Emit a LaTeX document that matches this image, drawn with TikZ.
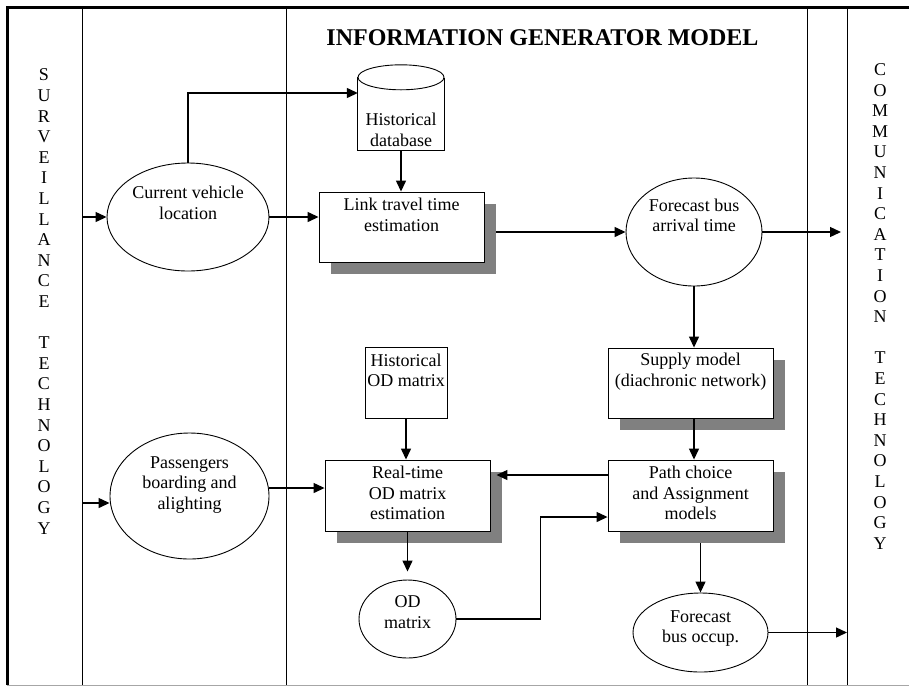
\documentclass[tikz,border=0pt]{standalone}
\usepackage{fontspec}
\setmainfont{Liberation Serif}
\usetikzlibrary{arrows.meta}
\usetikzlibrary{shapes.geometric}
\usetikzlibrary{shadows}
\usetikzlibrary{calc}

\begin{document}
\begin{tikzpicture}[x=1pt, y=-1pt, >={Triangle[length=11pt,width=10pt]},
    font=\fontsize{18}{20.6}\selectfont,
    block/.style={draw, fill=white, line width=0.9pt, inner sep=0pt},
    shade/.style={drop shadow={shadow xshift=12pt, shadow yshift=-12pt, fill=gray, opacity=1}},
    oval/.style={draw, ellipse, fill=white, line width=0.9pt, inner sep=0pt},
    txt/.style={align=center, inner sep=0pt},
    arr/.style={->, line width=1.3pt}]

    \useasboundingbox (0,0) rectangle (909,686);

    % frame and lanes
    \draw[gray!70, line width=1pt] (7,685) -- (909,685);
    \foreach \x in {82,286,807,847}
        \draw[line width=1pt] (\x,7) -- (\x,685);
    \draw[line width=3pt] (7,685) -- (7,7) -- (909,7);

    \coordinate (sl) at (82,0);
    \coordinate (sr) at (847,0);

    \node[font=\bfseries\fontsize{24}{28}\selectfont] (title) at (542.5,38) {INFORMATION GENERATOR MODEL};

    \node[txt] (surv) at (44,301.5) {S\\U\\R\\V\\E\\I\\L\\L\\A\\N\\C\\E\\[20.6pt]T\\E\\C\\H\\N\\O\\L\\O\\G\\Y};
    \node[txt] (comm) at (880,306.5) {C\\O\\M\\M\\U\\N\\I\\C\\A\\T\\I\\O\\N\\[20.6pt]T\\E\\C\\H\\N\\O\\L\\O\\G\\Y};

    % historical database
    \node[inner sep=0pt, minimum width=86pt, minimum height=85pt] (hdb) at (401,107.5) {};
    \draw[fill=white, line width=0.9pt] (hdb.north west) ++(0,12.5) -- (hdb.south west) -- (hdb.south east) -- ++(0,-72.5);
    \draw[fill=white, line width=0.9pt] ($(hdb.north)+(0,12.5)$) ellipse [x radius=43pt, y radius=12.5pt];
    \node[txt] (hdbt) at (401,130) {Historical\\database};

    % boxes
    \node[block, shade, minimum width=165pt, minimum height=70pt] (ltt) at (401.5,227) {};
    \node[txt] (lttt) at ([yshift=12pt]ltt.center) {Link travel time\\estimation};

    \node[block, shade, minimum width=165pt, minimum height=70pt] (sup) at (690.5,383) {};
    \node[txt] (supt) at ([yshift=11.5pt]sup.center) {Supply model\\(diachronic network)};

    \node[block, shade, minimum width=165pt, minimum height=71pt] (pca) at (690.5,495.5) {};
    \node[txt] (pcat) at ([yshift=2.5pt]pca.center) {Path choice\\and Assignment\\models};

    \node[block, shade, minimum width=165pt, minimum height=71pt] (rto) at (407.5,495.5) {};
    \node[txt] (rtot) at ([yshift=2.5pt]rto.center) {Real-time\\OD matrix\\estimation};

    \node[block, minimum width=82pt, minimum height=71pt] (hod) at (406,382.5) {};
    \node[txt] (hodt) at ([yshift=12pt]hod.center) {Historical\\OD matrix};

    % ellipses
    \node[oval, minimum width=162pt, minimum height=108pt] (cvl) at (188,217) {};
    \node[txt] (cvlt) at ([yshift=14pt]cvl.center) {Current vehicle\\location};

    \node[oval, minimum width=136pt, minimum height=108pt] (fba) at (694,232) {};
    \node[txt] (fbat) at ([yshift=16.5pt]fba.center) {Forecast bus\\arrival time};

    \node[oval, minimum width=159pt, minimum height=126pt] (psg) at (189.5,496) {};
    \node[txt] (psgt) at ([yshift=11pt]psg.center) {Passengers\\boarding and\\alighting};

    \node[oval, minimum width=97pt, minimum height=78pt] (odm) at (407.5,619) {};
    \node[txt] (odmt) at ([yshift=7pt]odm.center) {OD\\matrix};

    \node[oval, minimum width=135pt, minimum height=79pt] (fbo) at (700.5,632.5) {};
    \node[txt] (fbot) at ([yshift=4pt]fbo.center) {Forecast\\bus occup.};

    \coordinate (lttsh) at ($(ltt.east)+(12,0)$);
    \coordinate (pcash) at ($(pca.south)+(0,12)$);

    % connectors
    \draw[arr] (cvl.west -| sl) -- (cvl.west);
    \draw[arr] ($(psg.west -| sl)+(0,7)$) -- ($(psg.west)+(0,7)$);
    \draw[arr] (cvl.north) |- ($(hdb.west)+(0,-14.5)$);
    \draw[arr] (hdb.south) -- (hdb.south |- ltt.north);
    \draw[arr] (cvl.east) -- (cvl.east -| ltt.west);
    \draw[arr] (lttsh |- fba.west) -- (fba.west);
    \draw[arr] (fba.east) -- ($(fba.east -| sr)+(-6,0)$);
    \draw[arr] (fba.south) -- (fba.south |- sup.north);
    \draw[arr] (fba.south |- sup.south) -- (fba.south |- pca.north);
    \draw[arr] (hod.south) -- (hod.south |- rto.north);
    \draw[arr] ($(pca.west)+(0,-20.5)$) -- ($(pca.west -| rto.east)+(6,-20.5)$);
    \draw[arr] ($(psg.east)+(0,-8)$) -- ($(psg.east -| rto.west)+(0,-8)$);
    \draw[arr, shorten >=8pt] (rto.south) -- (odm.north);
    \draw[arr] (odm.east) -- ++(84,0) |- ($(pca.west)+(0,21.5)$);
    \draw[arr] (fbo.north |- pcash) -- (fbo.north);
    \draw[arr] (fbo.east) -- (fbo.east -| sr);

\end{tikzpicture}
\end{document}
